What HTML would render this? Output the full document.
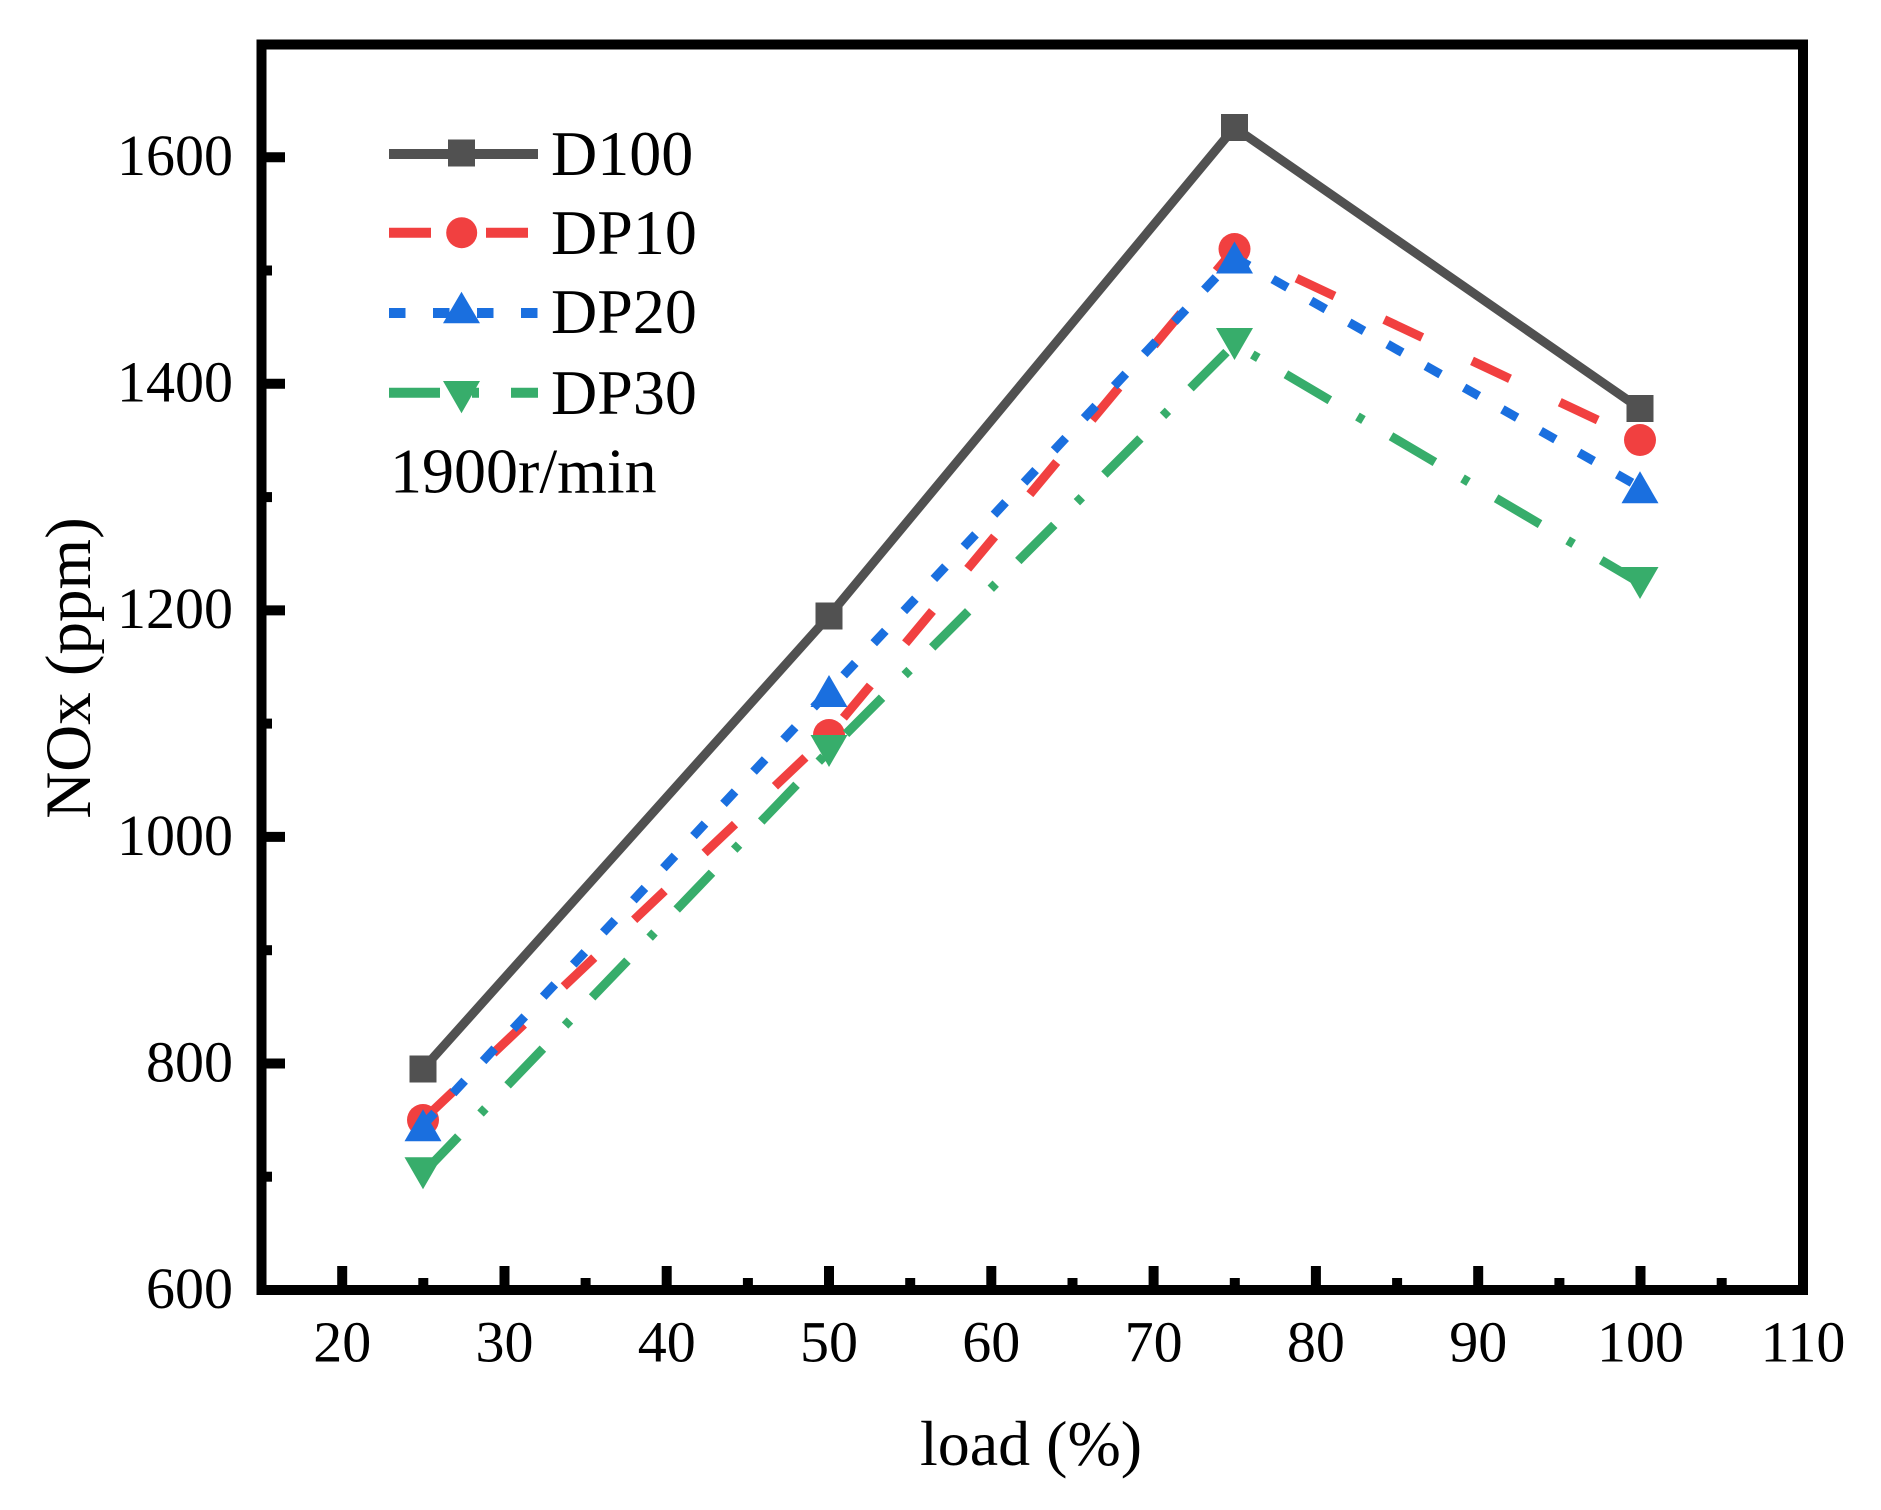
<!DOCTYPE html>
<html>
<head>
<meta charset="utf-8">
<style>
  html, body { margin: 0; padding: 0; background: #ffffff; }
  svg { display: block; }
  text { font-family: "Liberation Serif", "Times New Roman", serif; fill: #000; }
</style>
</head>
<body>
<svg xmlns="http://www.w3.org/2000/svg" width="1881" height="1510" viewBox="0 0 1881 1510">
  <rect x="0" y="0" width="1881" height="1510" fill="#ffffff"/>

  <!-- X ticks (major) -->
  <g stroke="#000" stroke-width="10" fill="none">
    <line x1="342.2" y1="1290" x2="342.2" y2="1266"/>
    <line x1="504.5" y1="1290" x2="504.5" y2="1266"/>
    <line x1="666.7" y1="1290" x2="666.7" y2="1266"/>
    <line x1="829.0" y1="1290" x2="829.0" y2="1266"/>
    <line x1="991.3" y1="1290" x2="991.3" y2="1266"/>
    <line x1="1153.6" y1="1290" x2="1153.6" y2="1266"/>
    <line x1="1315.9" y1="1290" x2="1315.9" y2="1266"/>
    <line x1="1478.2" y1="1290" x2="1478.2" y2="1266"/>
    <line x1="1640.5" y1="1290" x2="1640.5" y2="1266"/>
    <!-- minor -->
    <line x1="423.3" y1="1290" x2="423.3" y2="1278"/>
    <line x1="585.6" y1="1290" x2="585.6" y2="1278"/>
    <line x1="747.9" y1="1290" x2="747.9" y2="1278"/>
    <line x1="910.2" y1="1290" x2="910.2" y2="1278"/>
    <line x1="1072.5" y1="1290" x2="1072.5" y2="1278"/>
    <line x1="1234.8" y1="1290" x2="1234.8" y2="1278"/>
    <line x1="1397.1" y1="1290" x2="1397.1" y2="1278"/>
    <line x1="1559.4" y1="1290" x2="1559.4" y2="1278"/>
    <line x1="1721.7" y1="1290" x2="1721.7" y2="1278"/>
  </g>

  <!-- Y ticks -->
  <g stroke="#000" stroke-width="10" fill="none">
    <line x1="261" y1="1063.5" x2="285" y2="1063.5"/>
    <line x1="261" y1="836.9" x2="285" y2="836.9"/>
    <line x1="261" y1="610.4" x2="285" y2="610.4"/>
    <line x1="261" y1="383.8" x2="285" y2="383.8"/>
    <line x1="261" y1="157.3" x2="285" y2="157.3"/>
    <!-- minor -->
    <line x1="261" y1="1176.7" x2="272" y2="1176.7"/>
    <line x1="261" y1="950.2" x2="272" y2="950.2"/>
    <line x1="261" y1="723.6" x2="272" y2="723.6"/>
    <line x1="261" y1="497.1" x2="272" y2="497.1"/>
    <line x1="261" y1="270.5" x2="272" y2="270.5"/>
  </g>

  <!-- Frame -->
  <rect x="261.5" y="44.5" width="1541.5" height="1245.5" fill="none" stroke="#000" stroke-width="10"/>

  <!-- X tick labels -->
  <g font-size="58" text-anchor="middle">
    <text x="342.2" y="1361.5">20</text>
    <text x="504.5" y="1361.5">30</text>
    <text x="666.7" y="1361.5">40</text>
    <text x="829.0" y="1361.5">50</text>
    <text x="991.3" y="1361.5">60</text>
    <text x="1153.6" y="1361.5">70</text>
    <text x="1315.9" y="1361.5">80</text>
    <text x="1478.2" y="1361.5">90</text>
    <text x="1640.5" y="1361.5">100</text>
    <text x="1803" y="1361.5">110</text>
  </g>

  <!-- Y tick labels -->
  <g font-size="58" text-anchor="end">
    <text x="233" y="1308">600</text>
    <text x="233" y="1081.5">800</text>
    <text x="233" y="855">1000</text>
    <text x="233" y="628">1200</text>
    <text x="233" y="401.5">1400</text>
    <text x="233" y="175">1600</text>
  </g>

  <!-- Axis titles -->
  <text x="1031" y="1465" font-size="64" text-anchor="middle">load (%)</text>
  <text transform="translate(90,668) rotate(-90)" x="0" y="0" font-size="65" text-anchor="middle">NOx (ppm)</text>

  <!-- D100 -->
  <polyline points="423,1069 829,616 1234.5,127.5 1640,408.5" fill="none" stroke="#515151" stroke-width="9" stroke-linejoin="miter"/>
  <g fill="#515151">
    <rect x="409.5" y="1055.5" width="27" height="27"/>
    <rect x="815.5" y="602.5" width="27" height="27"/>
    <rect x="1221" y="114" width="27" height="27"/>
    <rect x="1626.5" y="395" width="27" height="27"/>
  </g>

  <!-- DP10 -->
  <polyline points="423,1120 829,735 1234.5,249 1640,440" fill="none" stroke="#F14040" stroke-width="9" stroke-dasharray="42 55"/>
  <g fill="#F14040">
    <circle cx="423" cy="1120" r="16"/>
    <circle cx="829" cy="735" r="16"/>
    <circle cx="1234.5" cy="249" r="16"/>
    <circle cx="1640" cy="440" r="16"/>
  </g>

  <!-- DP20 -->
  <polyline points="423,1125.3 829,691 1234.5,257.5 1640,487.3" fill="none" stroke="#1A6FDF" stroke-width="9" stroke-dasharray="17 27"/>
  <g fill="#1A6FDF">
    <polygon points="423,1109.3 441.5,1141.3 404.5,1141.3"/>
    <polygon points="829,675 847.5,707 810.5,707"/>
    <polygon points="1234.5,241.5 1253,273.5 1216,273.5"/>
    <polygon points="1640,471.3 1658.5,503.3 1621.5,503.3"/>
  </g>

  <!-- DP30 -->
  <polyline points="423,1173.3 829,751 1234.5,344 1640,583" fill="none" stroke="#37AD6B" stroke-width="9" stroke-dasharray="51 32 7 32"/>
  <g fill="#37AD6B">
    <polygon points="404.5,1157.3 441.5,1157.3 423,1189.3"/>
    <polygon points="810.5,735 847.5,735 829,767"/>
    <polygon points="1216,328 1253,328 1234.5,360"/>
    <polygon points="1621.5,567 1658.5,567 1640,599"/>
  </g>

  <!-- Legend -->
  <line x1="389" y1="154" x2="538" y2="154" stroke="#515151" stroke-width="10"/>
  <rect x="448" y="139.5" width="27" height="27" fill="#515151"/>
  <text x="551" y="175" font-size="64">D100</text>

  <line x1="389" y1="232.7" x2="538" y2="232.7" stroke="#F14040" stroke-width="10" stroke-dasharray="42 55"/>
  <circle cx="461.7" cy="232.7" r="15.5" fill="#F14040"/>
  <text x="551" y="254" font-size="64">DP10</text>

  <line x1="389" y1="313" x2="538" y2="313" stroke="#1A6FDF" stroke-width="10" stroke-dasharray="16.5 27.5"/>
  <polygon points="461.5,291.7 480,323.3 443,323.3" fill="#1A6FDF"/>
  <text x="551" y="333" font-size="64">DP20</text>

  <line x1="389" y1="392.7" x2="538" y2="392.7" stroke="#37AD6B" stroke-width="10" stroke-dasharray="51 32 7 32"/>
  <polygon points="443,381 480,381 461.5,413.3" fill="#37AD6B"/>
  <text x="551" y="414" font-size="64">DP30</text>

  <text x="390" y="492.7" font-size="64">1900r/min</text>
</svg>
</body>
</html>
